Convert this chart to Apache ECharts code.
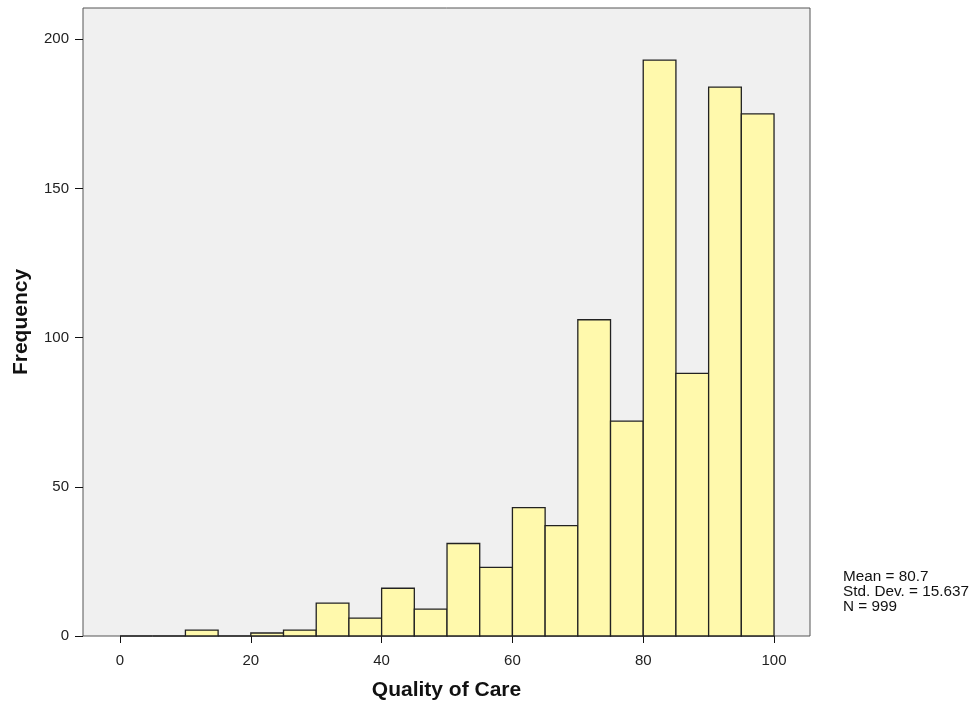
<!DOCTYPE html>
<html>
<head>
<meta charset="utf-8">
<script src="https://cdn.jsdelivr.net/npm/echarts@6/dist/echarts.min.js"></script>
<style>html,body{margin:0;padding:0;background:#fff;}#c{width:973px;height:705px;}</style>
</head>
<body>
<div id="c"></div>
<script>
var binStarts = [0,5,10,15,20,25,30,35,40,45,50,55,60,65,70,75,80,85,90,95];
var binWidth = 5;
var counts = [0,0,2,0,1,2,11,6,16,9,31,23,43,37,106,72,193,88,184,175];
var xTicks = [0,20,40,60,80,100];
var yTicks = [0,50,100,150,200];
var statsLines = ['Mean = 80.7','Std. Dev. = 15.637','N = 999'];

var data = binStarts.map(function(s,i){ return [s, s+binWidth, counts[i]]; });
var chart = echarts.init(document.getElementById('c'));
var font = '"Liberation Sans", Arial, sans-serif';
chart.setOption({
  animation:false,
  grid:{left:83,right:163,top:8,bottom:69,containLabel:false,outerBoundsMode:'none',
    show:true,backgroundColor:'#f0f0f0',borderColor:'#555',borderWidth:1},
  xAxis:{type:'value',min:-5.66,max:105.5,
    name:'Quality of Care',nameLocation:'middle',nameGap:44,
    nameTextStyle:{fontFamily:font,fontSize:21,fontWeight:'bold',color:'#111'},
    axisLine:{show:false,onZero:false},
    axisTick:{show:true,customValues:xTicks,length:7,lineStyle:{color:'#111'}},
    axisLabel:{customValues:xTicks,margin:17,fontFamily:font,fontSize:15,color:'#222'},
    splitLine:{show:false}},
  yAxis:{type:'value',min:0,max:210.5,
    name:'Frequency',nameLocation:'middle',nameGap:51,nameRotate:90,
    nameTextStyle:{fontFamily:font,fontSize:21,fontWeight:'bold',color:'#111'},
    axisLine:{show:false,onZero:false},
    axisTick:{show:true,customValues:yTicks,length:8,lineStyle:{color:'#111'}},
    axisLabel:{customValues:yTicks,margin:14,fontFamily:font,fontSize:15,color:'#222'},
    splitLine:{show:false}},
  series:[{type:'custom',
    data:data,
    encode:{x:[0,1],y:2},
    renderItem:function(params,api){
      var p0 = api.coord([api.value(0),api.value(2)]);
      var p1 = api.coord([api.value(1),0]);
      return {type:'rect',
        shape:{x:p0[0],y:p0[1],width:p1[0]-p0[0],height:p1[1]-p0[1]},
        style:{fill:'#fff9ac',stroke:'#222',lineWidth:1.3}};
    }}],
  graphic:statsLines.map(function(t,i){
    return {type:'text',left:843,top:569+i*15,
      style:{text:t,fontFamily:font,fontSize:15.3,fill:'#111'}};
  })
});
</script>
</body>
</html>
